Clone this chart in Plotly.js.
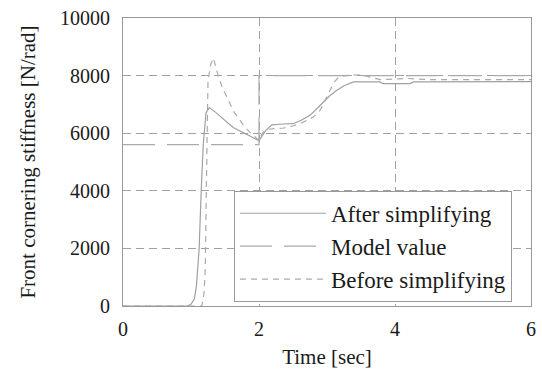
<!DOCTYPE html>
<html>
<head>
<meta charset="utf-8">
<script src="https://cdn.plot.ly/plotly-3.0.1.min.js"></script>
<style>html,body{margin:0;padding:0;background:#fff;}#chart{width:542px;height:369px;}</style>
</head>
<body>
<div id="chart"></div>
<script>
// Data
const afterTime  = [0, 0.95, 1.0, 1.05, 1.08, 1.12, 1.15, 1.18, 1.22, 1.27, 1.35, 1.45, 1.62, 1.8, 2.0, 2.1, 2.19, 2.35, 2.5, 2.62, 2.75, 2.85, 2.94, 3.04, 3.14, 3.25, 3.39, 3.6, 3.78, 3.82, 4.22, 4.27, 5.0, 6.0];
const afterValue = [0, 0, 60, 250, 700, 2000, 4000, 5600, 6700, 6890, 6750, 6550, 6200, 5980, 5740, 6100, 6290, 6320, 6330, 6450, 6620, 6850, 7080, 7300, 7480, 7650, 7780, 7790, 7780, 7720, 7720, 7780, 7790, 7790];

const modelTime  = [0, 2, 2, 6];
const modelValue = [5600, 5600, 8000, 8000];

const beforeTime  = [0, 1.16, 1.19, 1.21, 1.225, 1.24, 1.25, 1.29, 1.33, 1.40, 1.47, 1.55, 1.62, 1.79, 1.9, 2.0, 2.05, 2.11, 2.25, 2.36, 2.5, 2.6, 2.7, 2.8, 2.9, 3.04, 3.1, 3.17, 3.3, 3.49, 3.6, 3.68, 3.78, 4.2, 4.5, 5.0, 6.0];
const beforeValue = [0, 0, 400, 1300, 4000, 6000, 7800, 8400, 8610, 7990, 7530, 7150, 6780, 6210, 5980, 5740, 6000, 6130, 6160, 6180, 6250, 6330, 6440, 6560, 6800, 7500, 7750, 7950, 8010, 8030, 7980, 7920, 7860, 7900, 7860, 7860, 7860];

const seriesNames = ['After simplifying', 'Model value', 'Before simplifying'];
const xTicks = [0, 2, 4, 6];
const yTicks = [0, 2000, 4000, 6000, 8000, 10000];

const serif = 'Liberation Serif';

const traces = [
  {x: afterTime, y: afterValue, name: seriesNames[0], mode: 'lines',
   line: {color: '#a0a0a0', width: 1.2}},
  {x: modelTime, y: modelValue, name: seriesNames[1], mode: 'lines',
   line: {color: '#aaaaaa', width: 1.2, dash: '32px,12px'}},
  {x: beforeTime, y: beforeValue, name: seriesNames[2], mode: 'lines',
   line: {color: '#aaaaaa', width: 1.2, dash: '6px,5px'}}
];

const layout = {
  width: 542, height: 369,
  margin: {l: 123, r: 11, t: 18, b: 63, pad: 0},
  paper_bgcolor: '#fff', plot_bgcolor: '#fff',
  font: {family: serif, color: '#1a1a1a', size: 19},
  showlegend: true,
  legend: {
    x: 0.272, y: 0.40, xanchor: 'left', yanchor: 'top',
    bgcolor: '#fff', bordercolor: '#999', borderwidth: 1,
    font: {family: serif, size: 23, color: '#1a1a1a'},
    itemwidth: 86, tracegroupgap: 0
  },
  xaxis: {
    range: [0, 6], tickvals: xTicks, ticktext: xTicks.map(String),
    showline: true, mirror: true, linecolor: '#999', linewidth: 1,
    showgrid: true, gridcolor: '#a0a0a0', griddash: '8px,5px', gridwidth: 1,
    zeroline: false, ticks: 'outside', ticklen: 5, tickcolor: 'rgba(0,0,0,0)',
    tickfont: {family: serif, size: 20, color: '#1a1a1a'},
    title: {text: 'Time [sec]', font: {family: serif, size: 21, color: '#1a1a1a'}, standoff: 10},
    automargin: false
  },
  yaxis: {
    range: [0, 10000], tickvals: yTicks, ticktext: yTicks.map(String),
    showline: true, mirror: true, linecolor: '#999', linewidth: 1,
    showgrid: true, gridcolor: '#a0a0a0', griddash: '8px,5px', gridwidth: 1,
    zeroline: false, ticks: 'outside', ticklen: 8, tickcolor: 'rgba(0,0,0,0)',
    tickfont: {family: serif, size: 20, color: '#1a1a1a'},
    title: {text: 'Front cornering stiffness [N/rad]', font: {family: serif, size: 21, color: '#1a1a1a'}, standoff: 18},
    automargin: false
  }
};

Plotly.newPlot('chart', traces, layout, {staticPlot: true, displayModeBar: false});
</script>
</body>
</html>
